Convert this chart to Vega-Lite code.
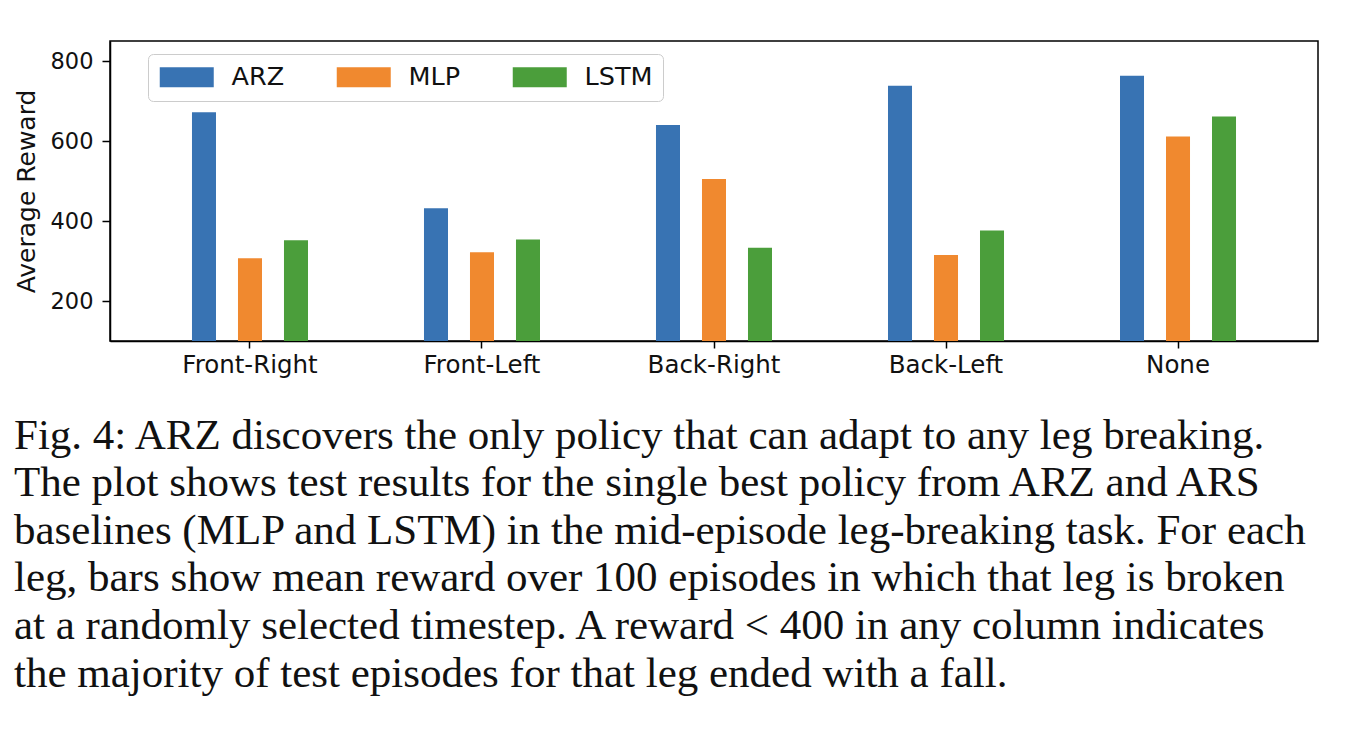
{
  "$schema": "https://vega.github.io/schema/vega-lite/v6.json",
  "autosize": {"type": "none"},
  "padding": {"left": 110, "top": 41, "right": 30, "bottom": 391},
  "width": 1208,
  "height": 300,
  "background": "white",
  "data": {
    "values": [
      {"leg": "Front-Right", "method": "ARZ", "reward": 672},
      {"leg": "Front-Right", "method": "MLP", "reward": 307},
      {"leg": "Front-Right", "method": "LSTM", "reward": 352},
      {"leg": "Front-Left", "method": "ARZ", "reward": 432},
      {"leg": "Front-Left", "method": "MLP", "reward": 322},
      {"leg": "Front-Left", "method": "LSTM", "reward": 354},
      {"leg": "Back-Right", "method": "ARZ", "reward": 640},
      {"leg": "Back-Right", "method": "MLP", "reward": 505},
      {"leg": "Back-Right", "method": "LSTM", "reward": 333},
      {"leg": "Back-Left", "method": "ARZ", "reward": 738},
      {"leg": "Back-Left", "method": "MLP", "reward": 315},
      {"leg": "Back-Left", "method": "LSTM", "reward": 376},
      {"leg": "None", "method": "ARZ", "reward": 763},
      {"leg": "None", "method": "MLP", "reward": 611},
      {"leg": "None", "method": "LSTM", "reward": 661}
    ]
  },
  "title": {
    "text": [
      "Fig. 4: ARZ discovers the only policy that can adapt to any leg breaking.",
      "The plot shows test results for the single best policy from ARZ and ARS",
      "baselines (MLP and LSTM) in the mid-episode leg-breaking task. For each",
      "leg, bars show mean reward over 100 episodes in which that leg is broken",
      "at a randomly selected timestep. A reward < 400 in any column indicates",
      "the majority of test episodes for that leg ended with a fall."
    ],
    "orient": "bottom",
    "anchor": "start",
    "frame": "group",
    "baseline": "top",
    "font": "Liberation Serif",
    "fontSize": 43,
    "fontWeight": "normal",
    "lineHeight": 47.6,
    "color": "#111111",
    "dx": -96,
    "offset": 38
  },
  "mark": {"type": "bar", "clip": true},
  "encoding": {
    "x": {
      "field": "leg",
      "type": "nominal",
      "sort": ["Front-Right", "Front-Left", "Back-Right", "Back-Left", "None"],
      "scale": {"paddingInner": 0, "paddingOuter": 0.1034},
      "axis": {
        "title": null,
        "labelAngle": 0,
        "labelFont": "DejaVu Sans",
        "labelFontSize": 24.5,
        "labelColor": "#111111",
        "labelPadding": 5,
        "tickSize": 7,
        "tickColor": "black",
        "tickWidth": 1.5,
        "domainColor": "black",
        "domainWidth": 1.5
      }
    },
    "xOffset": {
      "field": "method",
      "type": "nominal",
      "sort": ["ARZ", "MLP", "LSTM"],
      "scale": {"range": [47, 185], "paddingInner": 0.478, "paddingOuter": 0.239}
    },
    "y": {
      "field": "reward",
      "type": "quantitative",
      "scale": {"domain": [100, 850], "zero": false, "nice": false},
      "axis": {
        "title": "Average Reward",
        "titleFont": "DejaVu Sans",
        "titleFontSize": 25,
        "titleFontWeight": "normal",
        "titleColor": "#111111",
        "titlePadding": 11,
        "values": [200, 400, 600, 800],
        "grid": false,
        "labelFont": "DejaVu Sans",
        "labelFontSize": 22.5,
        "labelColor": "#111111",
        "labelPadding": 9,
        "tickSize": 8,
        "tickColor": "black",
        "tickWidth": 1.5,
        "domainColor": "black",
        "domainWidth": 1.5
      }
    },
    "color": {
      "field": "method",
      "type": "nominal",
      "sort": ["ARZ", "MLP", "LSTM"],
      "scale": {"domain": ["ARZ", "MLP", "LSTM"], "range": ["#3873b3", "#f0892f", "#4b9e3b"]},
      "legend": {
        "title": null,
        "orient": "none",
        "legendX": 38,
        "legendY": 13,
        "direction": "horizontal",
        "symbolType": "M-1.1,-1H4.3V1H-1.1Z",
        "symbolSize": 400,
        "symbolStrokeWidth": 0,
        "labelFont": "DejaVu Sans",
        "labelFontSize": 25.5,
        "labelColor": "#111111",
        "labelOffset": 48,
        "columnPadding": 50,
        "padding": 10,
        "strokeColor": "#cccccc",
        "fillColor": "white",
        "cornerRadius": 5
      }
    }
  },
  "config": {
    "view": {"stroke": "black", "strokeWidth": 1.5},
    "axis": {"grid": false}
  }
}
